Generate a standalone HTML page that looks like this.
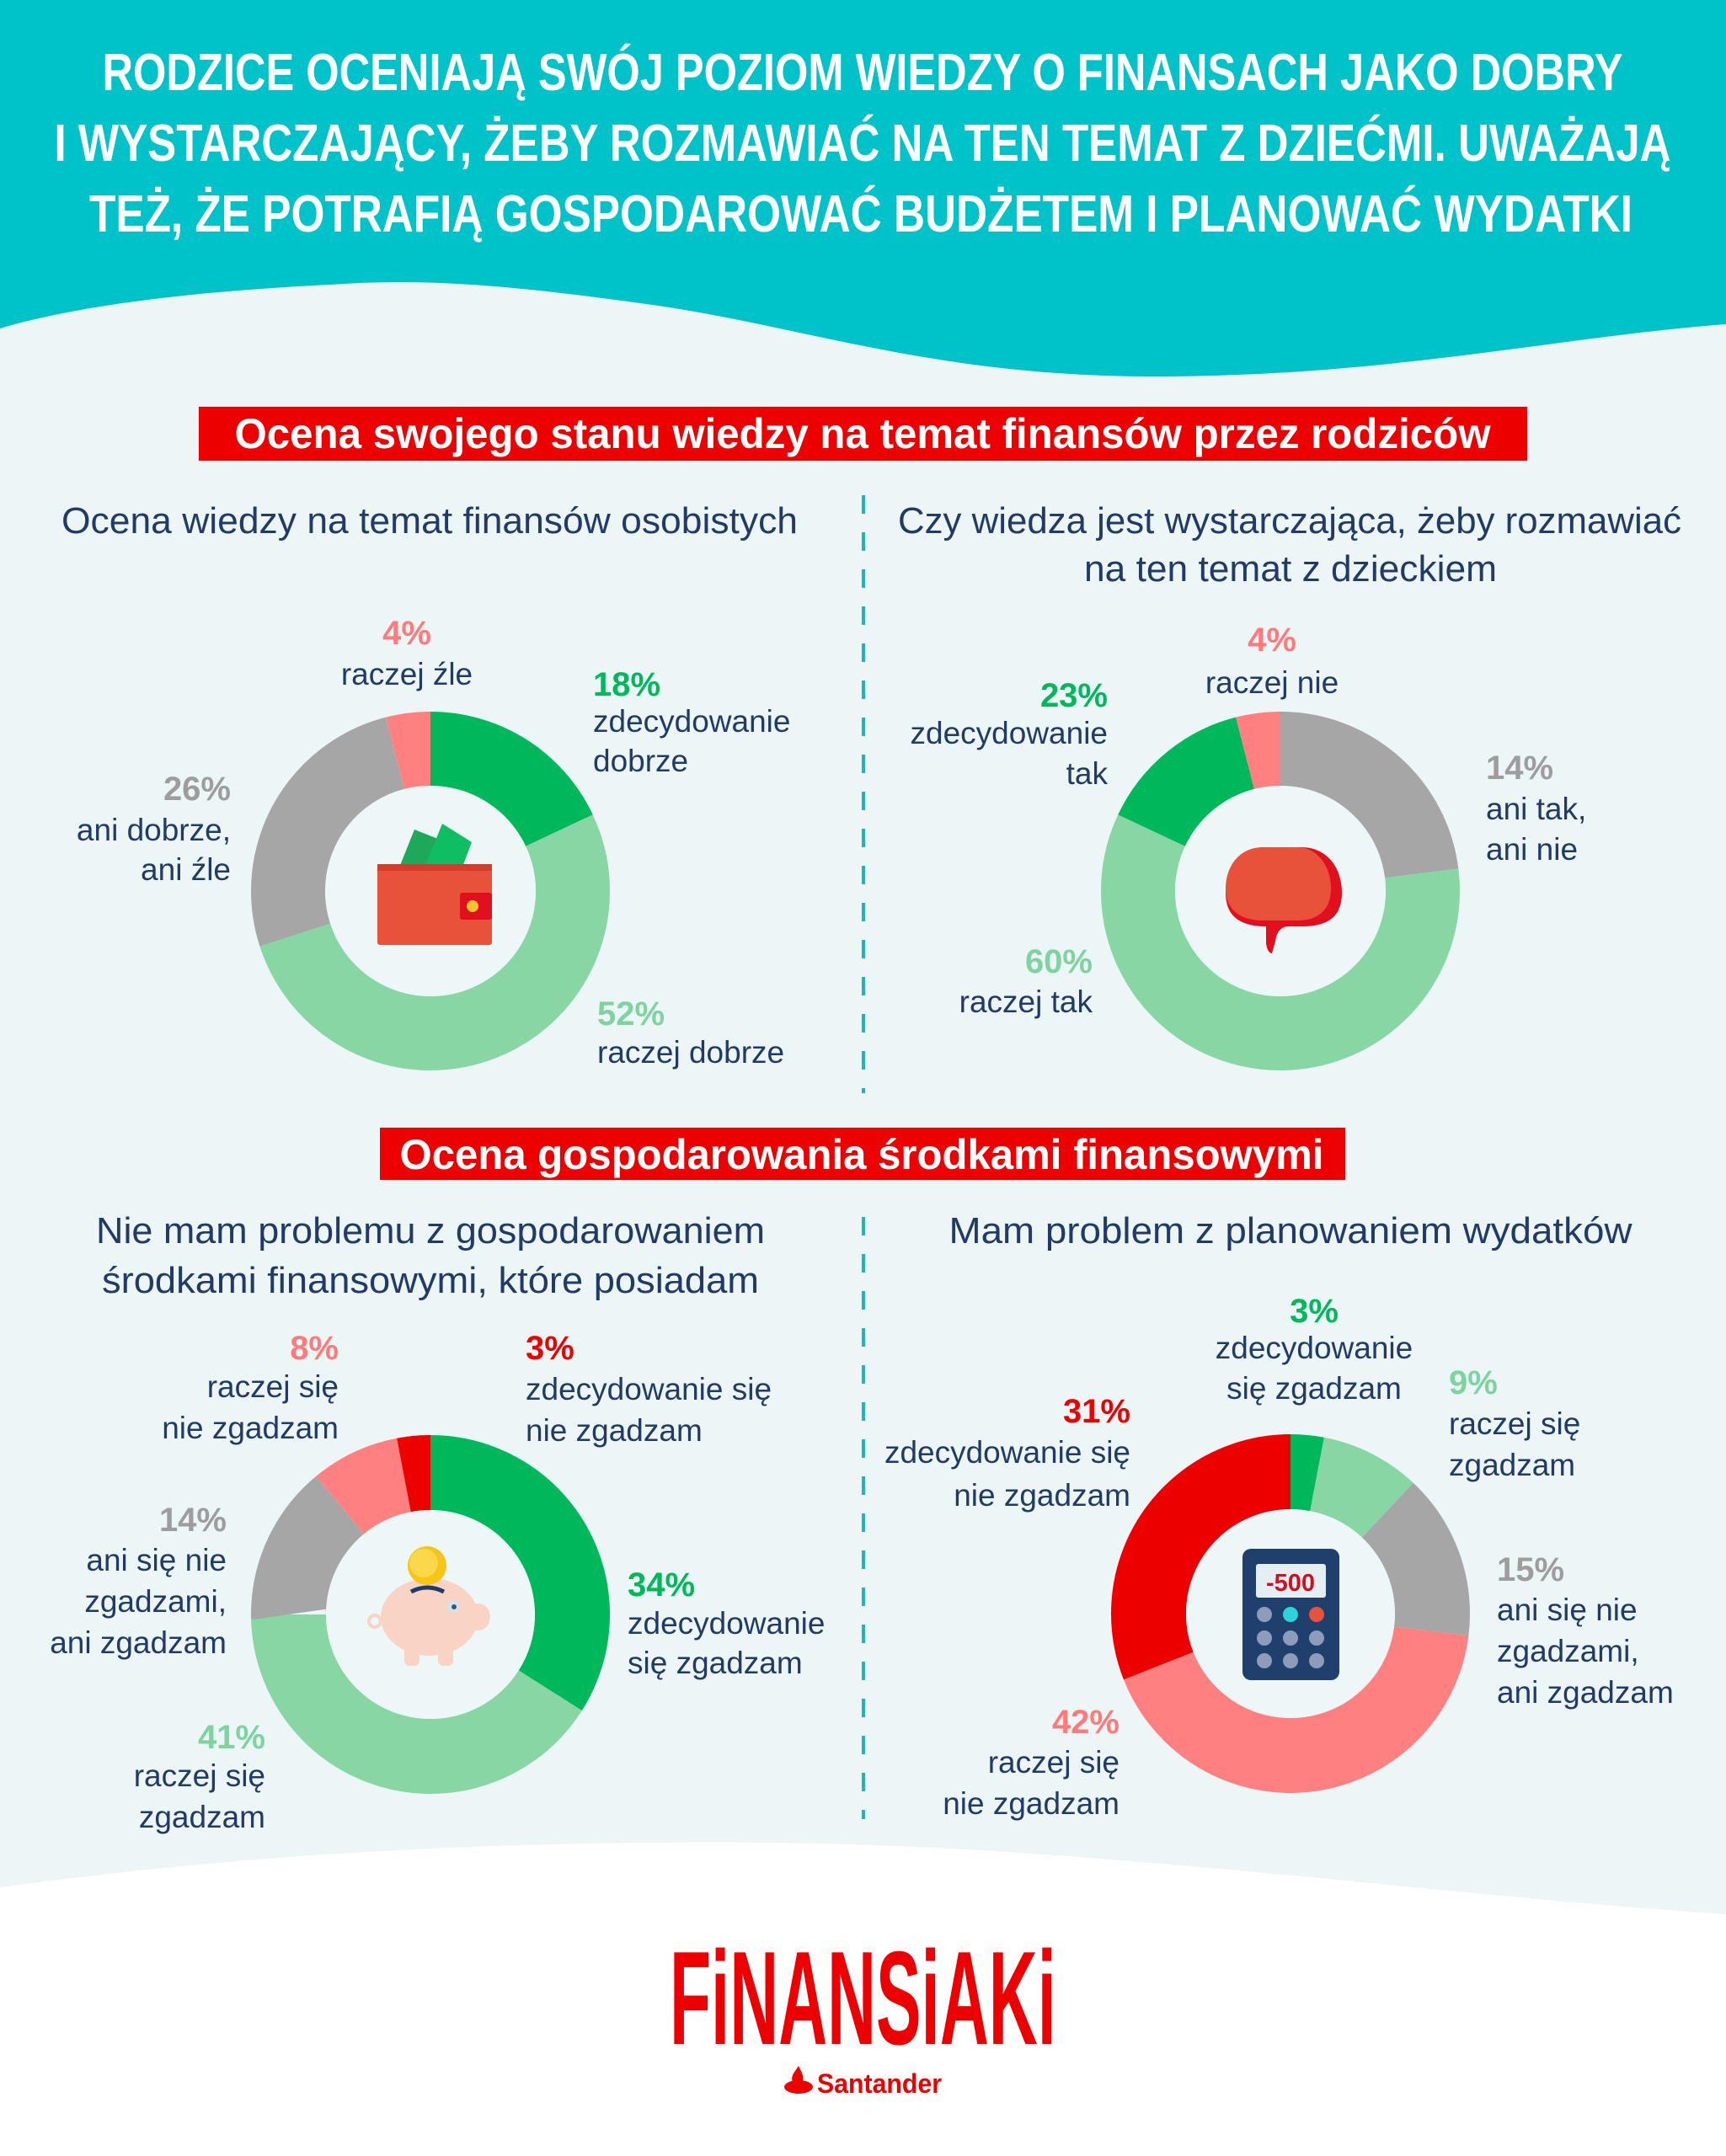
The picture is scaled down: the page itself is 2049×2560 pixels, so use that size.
<!DOCTYPE html>
<html><head><meta charset="utf-8"><style>
html,body{margin:0;padding:0;background:#fff}
svg{display:block}
text{font-family:"Liberation Sans","DejaVu Sans",sans-serif}
.t{fill:#fff;font-weight:bold;font-size:62px}
.b{fill:#fff;font-weight:bold;font-size:50px}
.s{fill:#223a66;font-size:44px}
.l{fill:#223a66;font-size:37px}
.p{font-weight:bold;font-size:40px}
</style></head><body>
<svg width="2049" height="2560" viewBox="0 0 2049 2560" xmlns="http://www.w3.org/2000/svg">
<rect width="2049" height="2560" fill="#ecf6f6"/>
<path d="M0,0 H2049 V385 C1850,400 1650,447 1372,447 C1100,447 950,385 760,360 C600,338 500,330 392,338 C250,345 100,360 0,390 Z" fill="#00c3c9"/>
<path d="M0,2241 C300,2200 600,2185 915,2188 C1300,2192 1700,2250 2049,2273 V2560 H0 Z" fill="#fff"/>

<text class="t" x="1024" y="107" text-anchor="middle" textLength="1805" lengthAdjust="spacingAndGlyphs">RODZICE OCENIAJĄ SWÓJ POZIOM WIEDZY O FINANSACH JAKO DOBRY</text>
<text class="t" x="1024" y="191" text-anchor="middle" textLength="1919" lengthAdjust="spacingAndGlyphs">I WYSTARCZAJĄCY, ŻEBY ROZMAWIAĆ NA TEN TEMAT Z DZIEĆMI. UWAŻAJĄ</text>
<text class="t" x="1022" y="275" text-anchor="middle" textLength="1832" lengthAdjust="spacingAndGlyphs">TEŻ, ŻE POTRAFIĄ GOSPODAROWAĆ BUDŻETEM I PLANOWAĆ WYDATKI</text>

<rect x="236" y="483" width="1577" height="64" fill="#ec0000"/>
<text class="b" x="1024" y="532" text-anchor="middle" textLength="1491" lengthAdjust="spacingAndGlyphs">Ocena swojego stanu wiedzy na temat finansów przez rodziców</text>
<rect x="451" y="1339" width="1146" height="62" fill="#ec0000"/>
<text class="b" x="1023" y="1388" text-anchor="middle" textLength="1097" lengthAdjust="spacingAndGlyphs">Ocena gospodarowania środkami finansowymi</text>

<line x1="1025" y1="588" x2="1025" y2="1298" stroke="#1fb5b8" stroke-width="4" stroke-dasharray="22 22"/>
<line x1="1025" y1="1445" x2="1025" y2="2160" stroke="#1fb5b8" stroke-width="4" stroke-dasharray="22 22"/>

<text class="s" x="510" y="633" text-anchor="middle" textLength="874" lengthAdjust="spacingAndGlyphs">Ocena wiedzy na temat finansów osobistych</text>
<text class="s" x="1531" y="633" text-anchor="middle" textLength="930" lengthAdjust="spacingAndGlyphs">Czy wiedza jest wystarczająca, żeby rozmawiać</text>
<text class="s" x="1532" y="690" text-anchor="middle" textLength="490" lengthAdjust="spacingAndGlyphs">na ten temat z dzieckiem</text>
<text class="s" x="511" y="1476" text-anchor="middle" textLength="794" lengthAdjust="spacingAndGlyphs">Nie mam problemu z gospodarowaniem</text>
<text class="s" x="511" y="1535" text-anchor="middle" textLength="780" lengthAdjust="spacingAndGlyphs">środkami finansowymi, które posiadam</text>
<text class="s" x="1532" y="1476" text-anchor="middle" textLength="811" lengthAdjust="spacingAndGlyphs">Mam problem z planowaniem wydatków</text>

<!-- Donut 1 -->
<g transform="translate(511,1058) rotate(-90)" fill="none" stroke-width="88">
<circle r="169" pathLength="100" stroke="#00b85c" stroke-dasharray="18 82" stroke-dashoffset="0"/>
<circle r="169" pathLength="100" stroke="#87d6a4" stroke-dasharray="52 48" stroke-dashoffset="-18"/>
<circle r="169" pathLength="100" stroke="#a6a6a6" stroke-dasharray="26 74" stroke-dashoffset="-70"/>
<circle r="169" pathLength="100" stroke="#ff8080" stroke-dasharray="4 96" stroke-dashoffset="-96"/>
</g>
<circle cx="511" cy="1058" r="125" fill="#eef7f7"/>
<g>
<polygon points="470,1040 492,985 530,1000 515,1040" fill="#1ea85a"/>
<polygon points="500,1040 525,978 560,1000 545,1040" fill="#0fbd63"/>
<rect x="448" y="1026" width="136" height="96" rx="3" fill="#e8523a"/>
<rect x="448" y="1026" width="136" height="8" fill="#d43d2a"/>
<rect x="546" y="1060" width="38" height="32" rx="3" fill="#e0101e"/>
<circle cx="561" cy="1076" r="7" fill="#f7c430"/>
</g>

<!-- Donut 2 -->
<g transform="translate(1520,1058) rotate(-90)" fill="none" stroke-width="88">
<circle r="169" pathLength="100" stroke="#a6a6a6" stroke-dasharray="23 77" stroke-dashoffset="0"/>
<circle r="169" pathLength="100" stroke="#87d6a4" stroke-dasharray="59 41" stroke-dashoffset="-23"/>
<circle r="169" pathLength="100" stroke="#00b85c" stroke-dasharray="14 86" stroke-dashoffset="-82"/>
<circle r="169" pathLength="100" stroke="#ff8080" stroke-dasharray="4 96" stroke-dashoffset="-96"/>
</g>
<circle cx="1520" cy="1058" r="125" fill="#eef7f7"/>
<g>
<path d="M1500,1006 H1545 C1575,1006 1593,1030 1593,1060 C1593,1090 1575,1100 1545,1100 H1530 C1520,1100 1515,1108 1514,1118 L1510,1132 C1506,1132 1503,1125 1503,1118 V1100 C1475,1100 1455,1090 1455,1060 C1455,1030 1470,1006 1500,1006 Z" fill="#e0101e"/>
<path d="M1500,1006 H1540 C1565,1006 1580,1030 1580,1055 C1580,1080 1565,1093 1540,1093 H1500 C1472,1093 1455,1080 1455,1055 C1455,1030 1470,1006 1500,1006 Z" fill="#e8523a"/>
</g>

<!-- Donut 3 -->
<g transform="translate(511,1917) rotate(-90)" fill="none" stroke-width="89">
<circle r="168.5" pathLength="100" stroke="#00b85c" stroke-dasharray="34 66" stroke-dashoffset="0"/>
<circle r="168.5" pathLength="100" stroke="#87d6a4" stroke-dasharray="41 59" stroke-dashoffset="-34"/>
<circle r="168.5" pathLength="100" stroke="#a6a6a6" stroke-dasharray="14 86" stroke-dashoffset="-75"/>
<circle r="168.5" pathLength="100" stroke="#ff8080" stroke-dasharray="8 92" stroke-dashoffset="-89"/>
<circle r="168.5" pathLength="100" stroke="#ec0000" stroke-dasharray="3 97" stroke-dashoffset="-97"/>
</g>
<circle cx="511" cy="1917" r="124" fill="#eef7f7"/>
<g>
<ellipse cx="510" cy="1920" rx="58" ry="46" fill="#f9d3c4"/>
<rect x="480" y="1950" width="18" height="28" rx="6" fill="#f9d3c4"/>
<rect x="520" y="1950" width="18" height="28" rx="6" fill="#f9d3c4"/>
<ellipse cx="568" cy="1920" rx="14" ry="16" fill="#f9d3c4"/>
<circle cx="538" cy="1907" r="7" fill="#cfe6ee"/><circle cx="539" cy="1908" r="3" fill="#39557a"/>
<circle cx="445" cy="1925" r="7" fill="none" stroke="#f9d3c4" stroke-width="4"/>
<path d="M488,1890 Q507,1880 527,1890" stroke="#223a66" stroke-width="5" fill="none"/>
<circle cx="507" cy="1859" r="23" fill="#f5c518"/>
<circle cx="503" cy="1856" r="17" fill="#fbd84a"/>
</g>

<!-- Donut 4 -->
<g transform="translate(1532,1916) rotate(-90)" fill="none" stroke-width="89">
<circle r="168.5" pathLength="100" stroke="#00b85c" stroke-dasharray="3 97" stroke-dashoffset="0"/>
<circle r="168.5" pathLength="100" stroke="#87d6a4" stroke-dasharray="9 91" stroke-dashoffset="-3"/>
<circle r="168.5" pathLength="100" stroke="#a6a6a6" stroke-dasharray="15 85" stroke-dashoffset="-12"/>
<circle r="168.5" pathLength="100" stroke="#ff8080" stroke-dasharray="42 58" stroke-dashoffset="-27"/>
<circle r="168.5" pathLength="100" stroke="#ec0000" stroke-dasharray="31 69" stroke-dashoffset="-69"/>
</g>
<circle cx="1532" cy="1916" r="124" fill="#eef7f7"/>
<g>
<rect x="1475" y="1839" width="115" height="156" rx="10" fill="#1f406d"/>
<rect x="1491" y="1857" width="83" height="40" rx="3" fill="#e4eef3"/>
<text x="1532" y="1889" text-anchor="middle" font-size="29" font-weight="bold" fill="#d0101e">-500</text>
<circle cx="1501" cy="1917" r="9" fill="#8d9cb8"/><circle cx="1532" cy="1917" r="9" fill="#2ed3d8"/><circle cx="1563" cy="1917" r="9" fill="#e8523a"/>
<circle cx="1501" cy="1945" r="9" fill="#8d9cb8"/><circle cx="1532" cy="1945" r="9" fill="#8d9cb8"/><circle cx="1563" cy="1945" r="9" fill="#8d9cb8"/>
<circle cx="1501" cy="1972" r="9" fill="#8d9cb8"/><circle cx="1532" cy="1972" r="9" fill="#8d9cb8"/><circle cx="1563" cy="1972" r="9" fill="#8d9cb8"/>
</g>

<!-- Labels donut 1 -->
<text class="p" x="483" y="765" text-anchor="middle" fill="#ff7b7b">4%</text>
<text class="l" x="483" y="813" text-anchor="middle">raczej źle</text>
<text class="p" x="704" y="826" fill="#00b85c">18%</text>
<text class="l" x="704" y="869">zdecydowanie</text>
<text class="l" x="704" y="916">dobrze</text>
<text class="p" x="274" y="950" text-anchor="end" fill="#9d9d9d">26%</text>
<text class="l" x="274" y="998" text-anchor="end">ani dobrze,</text>
<text class="l" x="274" y="1045" text-anchor="end">ani źle</text>
<text class="p" x="709" y="1217" fill="#7fd3a0">52%</text>
<text class="l" x="709" y="1262">raczej dobrze</text>

<!-- Labels donut 2 -->
<text class="p" x="1510" y="773" text-anchor="middle" fill="#ff7b7b">4%</text>
<text class="l" x="1510" y="823" text-anchor="middle">raczej nie</text>
<text class="p" x="1315" y="839" text-anchor="end" fill="#00b85c">23%</text>
<text class="l" x="1315" y="883" text-anchor="end">zdecydowanie</text>
<text class="l" x="1315" y="931" text-anchor="end">tak</text>
<text class="p" x="1764" y="925" fill="#9d9d9d">14%</text>
<text class="l" x="1764" y="973">ani tak,</text>
<text class="l" x="1764" y="1021">ani nie</text>
<text class="p" x="1297" y="1155" text-anchor="end" fill="#7fd3a0">60%</text>
<text class="l" x="1297" y="1202" text-anchor="end">raczej tak</text>

<!-- Labels donut 3 -->
<text class="p" x="402" y="1614" text-anchor="end" fill="#ff7b7b">8%</text>
<text class="l" x="402" y="1659" text-anchor="end">raczej się</text>
<text class="l" x="402" y="1708" text-anchor="end">nie zgadzam</text>
<text class="p" x="624" y="1614" fill="#ec0000">3%</text>
<text class="l" x="624" y="1662">zdecydowanie się</text>
<text class="l" x="624" y="1711">nie zgadzam</text>
<text class="p" x="269" y="1818" text-anchor="end" fill="#9d9d9d">14%</text>
<text class="l" x="269" y="1865" text-anchor="end">ani się nie</text>
<text class="l" x="269" y="1914" text-anchor="end">zgadzami,</text>
<text class="l" x="269" y="1963" text-anchor="end">ani zgadzam</text>
<text class="p" x="745" y="1895" fill="#00b85c">34%</text>
<text class="l" x="745" y="1940">zdecydowanie</text>
<text class="l" x="745" y="1987">się zgadzam</text>
<text class="p" x="315" y="2076" text-anchor="end" fill="#7fd3a0">41%</text>
<text class="l" x="315" y="2121" text-anchor="end">raczej się</text>
<text class="l" x="315" y="2170" text-anchor="end">zgadzam</text>

<!-- Labels donut 4 -->
<text class="p" x="1560" y="1570" text-anchor="middle" fill="#00b85c">3%</text>
<text class="l" x="1560" y="1613" text-anchor="middle">zdecydowanie</text>
<text class="l" x="1560" y="1661" text-anchor="middle">się zgadzam</text>
<text class="p" x="1720" y="1655" fill="#7fd3a0">9%</text>
<text class="l" x="1720" y="1703">raczej się</text>
<text class="l" x="1720" y="1752">zgadzam</text>
<text class="p" x="1342" y="1689" text-anchor="end" fill="#ec0000">31%</text>
<text class="l" x="1342" y="1737" text-anchor="end">zdecydowanie się</text>
<text class="l" x="1342" y="1788" text-anchor="end">nie zgadzam</text>
<text class="p" x="1777" y="1877" fill="#9d9d9d">15%</text>
<text class="l" x="1777" y="1924">ani się nie</text>
<text class="l" x="1777" y="1973">zgadzami,</text>
<text class="l" x="1777" y="2022">ani zgadzam</text>
<text class="p" x="1329" y="2058" text-anchor="end" fill="#ff7b7b">42%</text>
<text class="l" x="1329" y="2105" text-anchor="end">raczej się</text>
<text class="l" x="1329" y="2154" text-anchor="end">nie zgadzam</text>

<!-- Logo -->
<text x="795" y="2427" font-size="158" font-weight="bold" fill="#ec0000" textLength="459" lengthAdjust="spacingAndGlyphs">FiNANSiAKi</text>
<g fill="#ec0000">
<ellipse cx="948" cy="2478" rx="17" ry="8"/>
<path d="M943,2476 C936,2466 944,2460 948,2453 C952,2462 956,2466 951,2476 Z"/>
</g>
<text x="970" y="2485" font-size="32" font-weight="bold" fill="#ec0000" textLength="148" lengthAdjust="spacingAndGlyphs">Santander</text>
</svg>
</body></html>
